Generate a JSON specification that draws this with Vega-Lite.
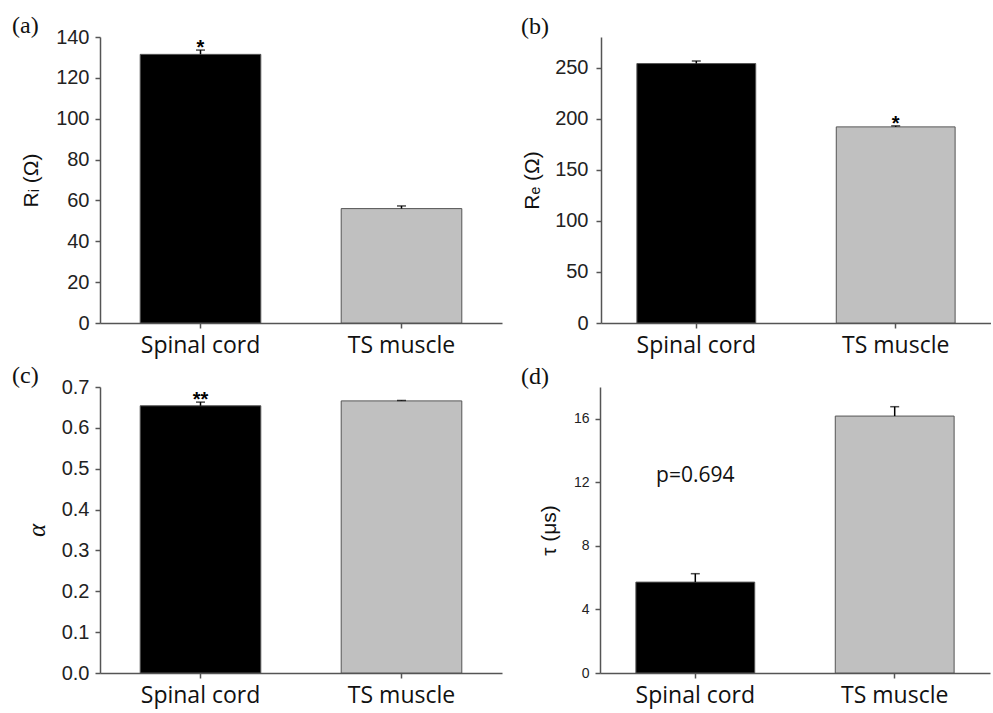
{
  "$schema": "https://vega.github.io/schema/vega-lite/v6.json",
  "padding": {"left": 12, "top": 14, "right": 0, "bottom": 5},
  "background": "white",
  "spacing": 7,
  "config": {
    "view": {"stroke": null},
    "concat": {"spacing": 19},
    "axis": {"grid": false, "domainColor": "#555", "tickColor": "#555", "domainWidth": 1.5, "tickWidth": 1.5, "labelColor": "#222", "titleColor": "#111", "titleFontWeight": "normal", "labelOverlap": false},
    "axisX": {"labelBaseline": "alphabetic", "labelPadding": 24, "labelAngle": 0, "labelFont": "Open Sans", "labelFontSize": 23, "labelColor": "#111", "tickSize": 5},
    "title": {"anchor": "start", "frame": "group", "font": "Liberation Serif", "fontSize": 24, "fontWeight": "normal", "color": "#111", "offset": 0}
  },
  "vconcat": [
    {
      "hconcat": [
        {
          "width": 402, "height": 286,
          "title": {"text": "(a)", "dx": -88, "dy": 15},
          "data": {"values": [
            {"tissue": "Spinal cord", "mean": 131.5, "hi": 133.6, "sig": "*"},
            {"tissue": "TS muscle", "mean": 56, "hi": 57.3, "sig": ""}
          ]},
          "encoding": {"x": {"field": "tissue", "type": "nominal", "sort": null, "title": null,
            "scale": {"paddingInner": 0.4, "paddingOuter": 0.2}}},
          "layer": [
            {"mark": {"type": "bar", "stroke": "#555", "strokeWidth": 1},
             "encoding": {
               "y": {"field": "mean", "type": "quantitative", "scale": {"domain": [0, 140]},
                 "axis": {"title": "Rᵢ (Ω)", "values": [0, 20, 40, 60, 80, 100, 120, 140], "labelFont": "Liberation Sans", "labelFontSize": 20, "titleFont": "Liberation Sans", "titleFontSize": 21, "tickSize": 5, "labelPadding": 6, "titlePadding": 14}},
               "fill": {"field": "tissue", "type": "nominal", "scale": {"range": ["#000000", "#c0c0c0"]}, "legend": null}}},
            {"mark": {"type": "rule", "color": "#000", "strokeWidth": 1.5},
             "encoding": {"y": {"field": "mean", "type": "quantitative"}, "y2": {"field": "hi"}}},
            {"mark": {"type": "tick", "color": "#000", "thickness": 1.5, "size": 9},
             "encoding": {"y": {"field": "hi", "type": "quantitative"}}},
            {"mark": {"type": "text", "font": "Liberation Sans", "fontSize": 20, "fontWeight": "bold", "baseline": "alphabetic", "dy": 4},
             "encoding": {"y": {"field": "hi", "type": "quantitative"}, "text": {"field": "sig"}}}
          ]
        },
        {
          "width": 390, "height": 286,
          "title": {"text": "(b)", "dx": -80, "dy": 6},
          "data": {"values": [
            {"tissue": "Spinal cord", "mean": 254, "hi": 256.5, "sig": ""},
            {"tissue": "TS muscle", "mean": 192, "hi": 193, "sig": "*"}
          ]},
          "encoding": {"x": {"field": "tissue", "type": "nominal", "sort": null, "title": null,
            "scale": {"paddingInner": 0.404, "paddingOuter": 0.18}}},
          "layer": [
            {"mark": {"type": "bar", "stroke": "#555", "strokeWidth": 1},
             "encoding": {
               "y": {"field": "mean", "type": "quantitative", "scale": {"domain": [0, 275.3]},
                 "axis": {"title": "Rₑ (Ω)", "values": [0, 50, 100, 150, 200, 250], "labelFont": "Liberation Sans", "labelFontSize": 20, "titleFont": "Liberation Sans", "titleFontSize": 21, "tickSize": 5, "labelPadding": 8, "titlePadding": 12}},
               "fill": {"field": "tissue", "type": "nominal", "scale": {"range": ["#000000", "#c0c0c0"]}, "legend": null}}},
            {"mark": {"type": "rule", "color": "#000", "strokeWidth": 1.5},
             "encoding": {"y": {"field": "mean", "type": "quantitative"}, "y2": {"field": "hi"}}},
            {"mark": {"type": "tick", "color": "#000", "thickness": 1.5, "size": 9},
             "encoding": {"y": {"field": "hi", "type": "quantitative"}}},
            {"mark": {"type": "text", "font": "Liberation Sans", "fontSize": 20, "fontWeight": "bold", "baseline": "alphabetic", "dy": 4},
             "encoding": {"y": {"field": "hi", "type": "quantitative"}, "text": {"field": "sig"}}}
          ]
        }
      ]
    },
    {
      "hconcat": [
        {
          "width": 402, "height": 286,
          "title": {"text": "(c)", "dx": -88, "dy": 15},
          "data": {"values": [
            {"tissue": "Spinal cord", "mean": 0.654, "hi": 0.663, "sig": "**"},
            {"tissue": "TS muscle", "mean": 0.666, "hi": 0.667, "sig": ""}
          ]},
          "encoding": {"x": {"field": "tissue", "type": "nominal", "sort": null, "title": null,
            "scale": {"paddingInner": 0.4, "paddingOuter": 0.2}}},
          "layer": [
            {"mark": {"type": "bar", "stroke": "#555", "strokeWidth": 1},
             "encoding": {
               "y": {"field": "mean", "type": "quantitative", "scale": {"domain": [0, 0.7]},
                 "axis": {"title": "α", "format": ".1f", "values": [0, 0.1, 0.2, 0.3, 0.4, 0.5, 0.6, 0.7], "labelFont": "Liberation Sans", "labelFontSize": 20, "titleFont": "Liberation Serif", "titleFontStyle": "italic", "titleFontSize": 25, "tickSize": 5, "labelPadding": 6, "titlePadding": 12}},
               "fill": {"field": "tissue", "type": "nominal", "scale": {"range": ["#000000", "#c0c0c0"]}, "legend": null}}},
            {"mark": {"type": "rule", "color": "#000", "strokeWidth": 1.5},
             "encoding": {"y": {"field": "mean", "type": "quantitative"}, "y2": {"field": "hi"}}},
            {"mark": {"type": "tick", "color": "#000", "thickness": 1.5, "size": 9},
             "encoding": {"y": {"field": "hi", "type": "quantitative"}}},
            {"mark": {"type": "text", "font": "Liberation Sans", "fontSize": 20, "fontWeight": "bold", "baseline": "alphabetic", "dy": 4},
             "encoding": {"y": {"field": "hi", "type": "quantitative"}, "text": {"field": "sig"}}}
          ]
        },
        {
          "width": 390, "height": 286,
          "title": {"text": "(d)", "dx": -79, "dy": 6},
          "data": {"values": [
            {"tissue": "Spinal cord", "mean": 5.72, "hi": 6.25},
            {"tissue": "TS muscle", "mean": 16.17, "hi": 16.76}
          ]},
          "encoding": {"x": {"field": "tissue", "type": "nominal", "sort": null, "title": null,
            "scale": {"paddingInner": 0.404, "paddingOuter": 0.18}}},
          "layer": [
            {"mark": {"type": "bar", "stroke": "#555", "strokeWidth": 1},
             "encoding": {
               "y": {"field": "mean", "type": "quantitative", "scale": {"domain": [0, 16.7]},
                 "axis": {"title": "τ (μs)", "values": [0, 2, 4, 6, 8, 10, 12, 14, 16], "labelFont": "Liberation Sans", "labelFontSize": 14, "titleFont": "Liberation Sans", "titleFontSize": 21, "tickSize": 5, "labelPadding": 6, "titlePadding": 14}},
               "fill": {"field": "tissue", "type": "nominal", "scale": {"range": ["#000000", "#c0c0c0"]}, "legend": null}}},
            {"mark": {"type": "rule", "color": "#000", "strokeWidth": 1.5},
             "encoding": {"y": {"field": "mean", "type": "quantitative"}, "y2": {"field": "hi"}}},
            {"mark": {"type": "tick", "color": "#000", "thickness": 1.5, "size": 9},
             "encoding": {"y": {"field": "hi", "type": "quantitative"}}},
            {"data": {"values": [{"tissue": "Spinal cord", "v": 12.4, "label": "p=0.694"}]},
             "mark": {"type": "text", "font": "Open Sans", "fontSize": 21, "color": "#111", "baseline": "middle"},
             "encoding": {"y": {"field": "v", "type": "quantitative"}, "text": {"field": "label"}}}
          ]
        }
      ]
    }
  ]
}
